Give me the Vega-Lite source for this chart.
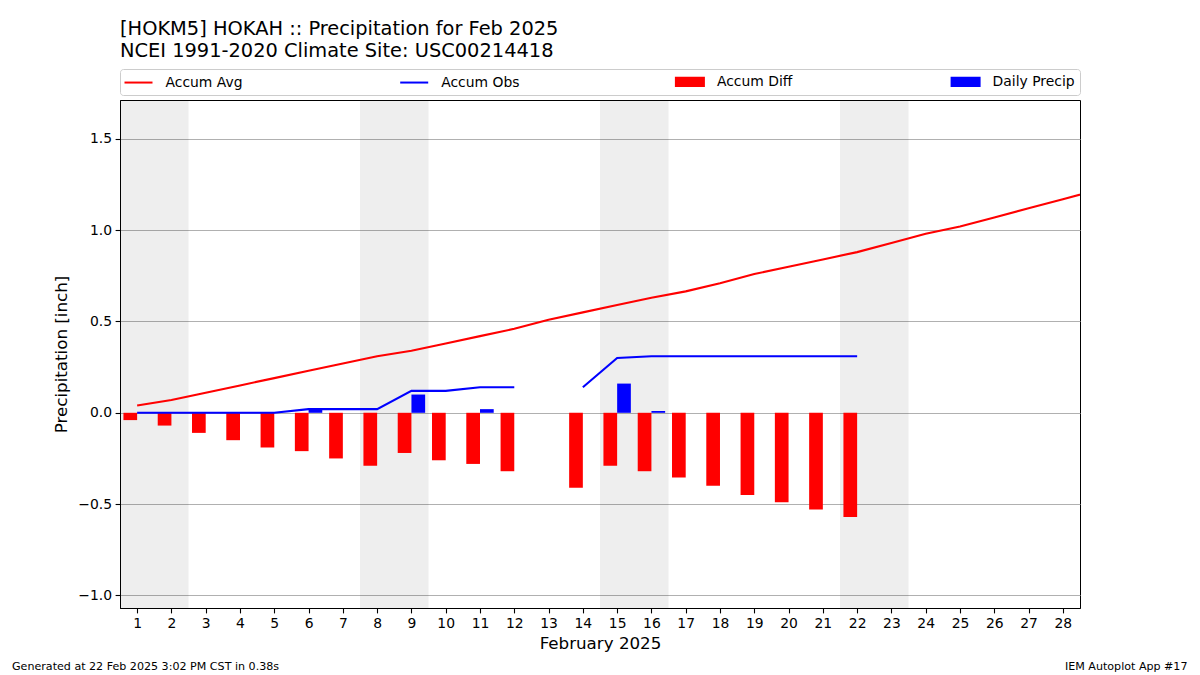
{
  "$schema": "https://vega.github.io/schema/vega-lite/v6.json",
  "width": 960,
  "height": 508,
  "autosize": {"type": "none"},
  "padding": {"left": 120, "top": 100, "right": 120, "bottom": 67},
  "background": "white",
  "config": {
    "font": "DejaVu Sans",
    "view": {"stroke": "black", "strokeWidth": 1},
    "axis": {
      "labelFontSize": 13.9,
      "labelColor": "black",
      "labelFont": "DejaVu Sans",
      "tickColor": "black",
      "tickSize": 4.9,
      "tickWidth": 1.1,
      "domainColor": "black",
      "domainWidth": 1,
      "titleFontSize": 16.7,
      "titleFontWeight": "normal",
      "titleColor": "black",
      "titleFont": "DejaVu Sans",
      "labelPadding": 3.5,
      "labelOverlap": false
    },
    "axisX": {"grid": false, "titlePadding": 5},
    "axisY": {"grid": true, "gridColor": "#b0b0b0", "gridWidth": 1.1, "titlePadding": 7}
  },
  "title": {
    "text": ["[HOKM5] HOKAH :: Precipitation for Feb 2025", "NCEI 1991-2020 Climate Site: USC00214418"],
    "anchor": "start",
    "frame": "group",
    "fontSize": 19.4,
    "fontWeight": "normal",
    "font": "DejaVu Sans",
    "color": "black",
    "baseline": "bottom",
    "lineHeight": 22.4,
    "offset": -12.4
  },
  "datasets": {
    "daily": [
      {"day": 1, "avg": 0.04, "obs": 0.0, "diff": -0.04},
      {"day": 2, "avg": 0.07, "obs": 0.0, "diff": -0.07},
      {"day": 3, "avg": 0.11, "obs": 0.0, "diff": -0.11},
      {"day": 4, "avg": 0.15, "obs": 0.0, "diff": -0.15},
      {"day": 5, "avg": 0.19, "obs": 0.0, "diff": -0.19},
      {"day": 6, "avg": 0.23, "obs": 0.02, "diff": -0.21, "precip": 0.02},
      {"day": 7, "avg": 0.27, "obs": 0.02, "diff": -0.25},
      {"day": 8, "avg": 0.31, "obs": 0.02, "diff": -0.29},
      {"day": 9, "avg": 0.34, "obs": 0.12, "diff": -0.22, "precip": 0.10},
      {"day": 10, "avg": 0.38, "obs": 0.12, "diff": -0.26},
      {"day": 11, "avg": 0.42, "obs": 0.14, "diff": -0.28, "precip": 0.02},
      {"day": 12, "avg": 0.46, "obs": 0.14, "diff": -0.32},
      {"day": 13, "avg": 0.51, "obs": null, "diff": null},
      {"day": 14, "avg": 0.55, "obs": 0.14, "diff": -0.41},
      {"day": 15, "avg": 0.59, "obs": 0.30, "diff": -0.29, "precip": 0.16},
      {"day": 16, "avg": 0.63, "obs": 0.31, "diff": -0.32, "precip": 0.01},
      {"day": 17, "avg": 0.665, "obs": 0.31, "diff": -0.355},
      {"day": 18, "avg": 0.71, "obs": 0.31, "diff": -0.40},
      {"day": 19, "avg": 0.76, "obs": 0.31, "diff": -0.45},
      {"day": 20, "avg": 0.80, "obs": 0.31, "diff": -0.49},
      {"day": 21, "avg": 0.84, "obs": 0.31, "diff": -0.53},
      {"day": 22, "avg": 0.88, "obs": 0.31, "diff": -0.57},
      {"day": 23, "avg": 0.93},
      {"day": 24, "avg": 0.98},
      {"day": 25, "avg": 1.02},
      {"day": 26, "avg": 1.07},
      {"day": 27, "avg": 1.12},
      {"day": 28, "avg": 1.17},
      {"day": 29, "avg": 1.22}
    ],
    "weekends": [
      {"start": 0.5, "end": 2.5},
      {"start": 7.5, "end": 9.5},
      {"start": 14.5, "end": 16.5},
      {"start": 21.5, "end": 23.5}
    ]
  },
  "layer": [
    {
      "data": {"name": "weekends"},
      "mark": {"type": "rect", "fill": "black", "opacity": 0.067},
      "encoding": {
        "x": {"field": "start", "type": "quantitative", "title": "February 2025",
              "scale": {"domain": [0.5, 28.5], "nice": false, "zero": false, "padding": 0},
              "axis": {"values": [1,2,3,4,5,6,7,8,9,10,11,12,13,14,15,16,17,18,19,20,21,22,23,24,25,26,27,28], "format": "d", "labelOverlap": false, "tickCount": 28}},
        "x2": {"field": "end"}
      }
    },
    {
      "data": {"name": "daily"},
      "transform": [{"filter": "isValid(datum.diff)"}],
      "mark": {"type": "bar", "width": 13.7, "xOffset": -6.86},
      "encoding": {
        "x": {"field": "day", "type": "quantitative", "title": "February 2025",
              "axis": {"values": [1,2,3,4,5,6,7,8,9,10,11,12,13,14,15,16,17,18,19,20,21,22,23,24,25,26,27,28], "format": "d", "labelOverlap": false, "tickCount": 28}},
        "y": {"field": "diff", "type": "quantitative", "title": "Precipitation [inch]",
              "scale": {"domain": [-1.069, 1.713], "nice": false, "zero": false, "padding": 0},
              "axis": {"values": [-1, -0.5, 0, 0.5, 1, 1.5], "format": ".1f"}},
        "color": {"datum": "Accum Diff", "type": "nominal",
                  "scale": {"domain": ["Accum Avg", "Accum Obs", "Accum Diff", "Daily Precip"], "range": ["#ff0000", "#0000ff", "#ff0000", "#0000ff"]},
                  "legend": {
                    "orient": "top", "direction": "horizontal", "columns": 4, "gridAlign": "all",
                    "columnPadding": 148.7, "title": null, "symbolSize": 196, "symbolOffset": 6,
                    "labelOffset": 19, "labelFontSize": 13.9, "labelColor": "black", "labelFont": "DejaVu Sans",
                    "padding": 4.5, "offset": 5, "strokeColor": "#cccccc", "fillColor": "white", "cornerRadius": 3,
                    "symbolStrokeWidth": 2,
                    "encode": {"symbols": {"update": {
                      "shape": {"signal": "indexof(['Accum Avg','Accum Obs'], datum.value) >= 0 ? 'M-2,0H2' : 'M-2,-0.6H2V0.6H-2Z'"},
                      "fill": {"signal": "datum.value === 'Accum Diff' ? '#ff0000' : datum.value === 'Daily Precip' ? '#0000ff' : 'transparent'"},
                      "stroke": {"signal": "datum.value === 'Accum Avg' ? '#ff0000' : datum.value === 'Accum Obs' ? '#0000ff' : 'transparent'"},
                      "strokeWidth": {"value": 2},
                      "opacity": {"value": 1}
                    }}}
                  }}
      }
    },
    {
      "data": {"name": "daily"},
      "transform": [{"filter": "isValid(datum.precip)"}],
      "mark": {"type": "bar", "width": 13.7, "xOffset": 6.86},
      "encoding": {
        "x": {"field": "day", "type": "quantitative", "title": "February 2025"},
        "y": {"field": "precip", "type": "quantitative", "title": "Precipitation [inch]"},
        "color": {"datum": "Daily Precip", "type": "nominal"}
      }
    },
    {
      "data": {"name": "daily"},
      "mark": {"type": "line", "strokeWidth": 2.1, "clip": true},
      "encoding": {
        "x": {"field": "day", "type": "quantitative", "title": "February 2025"},
        "y": {"field": "avg", "type": "quantitative", "title": "Precipitation [inch]"},
        "color": {"datum": "Accum Avg", "type": "nominal"}
      }
    },
    {
      "data": {"name": "daily"},
      "mark": {"type": "line", "strokeWidth": 2.1, "clip": true, "invalid": "break-paths-show-domains"},
      "encoding": {
        "x": {"field": "day", "type": "quantitative", "title": "February 2025"},
        "y": {"field": "obs", "type": "quantitative", "title": "Precipitation [inch]"},
        "color": {"datum": "Accum Obs", "type": "nominal"}
      }
    },
    {
      "data": {"values": [{}]},
      "mark": {"type": "text", "text": "Generated at 22 Feb 2025 3:02 PM CST in 0.38s", "align": "left", "baseline": "alphabetic", "fontSize": 11.1, "font": "DejaVu Sans", "color": "black", "dx": -108, "dy": 62},
      "encoding": {
        "x": {"datum": 0.5, "type": "quantitative", "title": "February 2025"},
        "y": {"datum": -1.069, "type": "quantitative", "title": "Precipitation [inch]"}
      }
    },
    {
      "data": {"values": [{}]},
      "mark": {"type": "text", "text": "IEM Autoplot App #17", "align": "right", "baseline": "alphabetic", "fontSize": 11.1, "font": "DejaVu Sans", "color": "black", "dx": 107.5, "dy": 62},
      "encoding": {
        "x": {"datum": 28.5, "type": "quantitative", "title": "February 2025"},
        "y": {"datum": -1.069, "type": "quantitative", "title": "Precipitation [inch]"}
      }
    }
  ]
}
